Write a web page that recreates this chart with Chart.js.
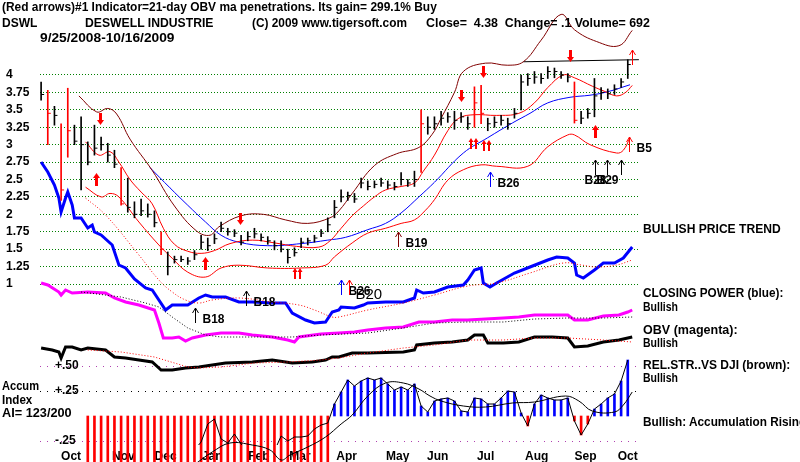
<!DOCTYPE html>
<html>
<head>
<meta charset="utf-8">
<script src="https://cdn.jsdelivr.net/npm/chart.js@4.4.1/dist/chart.umd.min.js"></script>
<style>
  body { margin: 0; background: #fff; }
  #wrap { position: relative; width: 800px; height: 462px; overflow: hidden;
          font-family: "Liberation Sans", Arial, sans-serif; font-weight: bold; font-size: 12px; color: #000; }
  #c { position: absolute; left: 0; top: 0; }
  .t { position: absolute; white-space: pre; line-height: 14px; transform-origin: 0 0; }
</style>
</head>
<body>
<div id="wrap">
  <canvas id="c" width="800" height="462"></canvas>
  <div class="t" data-w="435" style="left:2px;top:0px">(Red arrows)#1 Indicator=21-day OBV ma penetrations. Its gain= 299.1% Buy</div>
  <div class="t" data-w="35" style="left:2px;top:16px">DSWL</div>
  <div class="t" data-w="128" style="left:85px;top:16px">DESWELL INDUSTRIE</div>
  <div class="t" data-w="155" style="left:252px;top:16px">(C) 2009 www.tigersoft.com</div>
  <div class="t" data-w="224" style="left:426px;top:16px">Close=  4.38  Change= .1 Volume= 692</div>
  <div class="t" data-w="134" style="left:40px;top:31px">9/25/2008-10/16/2009</div>

  <div class="t" data-w="138" style="left:643px;top:222px">BULLISH PRICE TREND</div>
  <div class="t" data-w="140" style="left:643px;top:286px">CLOSING POWER (blue):</div>
  <div class="t" data-w="35" style="left:643px;top:300px">Bullish</div>
  <div class="t" data-w="95" style="left:643px;top:323px">OBV (magenta):</div>
  <div class="t" data-w="35" style="left:643px;top:336px">Bullish</div>
  <div class="t" data-w="147" style="left:643px;top:358px">REL.STR..VS DJI (brown):</div>
  <div class="t" data-w="35" style="left:643px;top:371px">Bullish</div>
  <div class="t" data-w="163" style="left:643px;top:415px">Bullish: Accumulation Rising</div>

  <div class="t" data-w="37" style="left:2px;top:379px">Accum</div>
  <div class="t" data-w="30" style="left:2px;top:393px">Index</div>
  <div class="t" data-w="70" style="left:2px;top:406px">AI= 123/200</div>
</div>
<script>
// trading-day index, 0 = 9/25/2008
const monthLabels = ['Oct', 'Nov', 'Dec', 'Jan', 'Feb', 'Mar', 'Apr', 'May', 'Jun', 'Jul', 'Aug', 'Sep', 'Oct'];
const monthDays = [13.5, 37, 56, 77, 98, 116.5, 137.5, 160.5, 178.5, 200, 223, 245, 264];
const priceTicks = [1, 1.25, 1.5, 1.75, 2, 2.25, 2.5, 2.75, 3, 3.25, 3.5, 3.75, 4];
const accumTicks = [-0.25, 0.25, 0.5];

// price bars
const priceDays = [0,3,6,9,12,15,18,21,24,27,30,33,36,39,42,45,48,51,54,57,60,63,66,69,72,75,78,81,84,87,
  90,93,96,99,102,105,108,111,114,117,120,123,126,129,132,135,138,141,144,147,150,153,156,159,162,165,168,171,174,177,
  180,183,186,189,192,195,198,201,204,207,210,213,216,219,222,225,228,231,234,237,240,243,246,249,252,255,258,261,264];
const priceHigh = [3.90,3.78,3.55,3.30,3.81,3.28,3.40,3.04,3.28,3.11, 3.02,2.92,2.67,2.52,2.18,2.22,2.15,2.05,1.75,1.46,
  1.40,1.40,1.38,1.48,1.70,1.66,1.72,1.89,1.80,1.78, 1.70,1.75,1.80,1.72,1.68,1.62,1.62,1.50,1.52,1.66,
  1.66,1.70,1.78,1.95,2.20,2.35,2.32,2.30,2.52,2.48, 2.48,2.52,2.48,2.46,2.60,2.50,2.62,3.50,3.40,3.40,
  3.48,3.46,3.48,3.46,3.40,3.83,3.85,3.38,3.40,3.42, 3.38,3.52,4.00,4.02,4.05,4.02,4.12,4.10,4.05,4.02,
  3.90,3.48,3.52,3.95,3.82,3.80,3.86,3.95,4.22];
const priceLow = [3.64,3.00,3.28,2.20,2.82,3.00,2.35,2.71,2.85,2.92, 2.75,2.67,2.13,2.03,1.95,1.98,1.96,1.82,1.42,1.13,
  1.30,1.32,1.28,1.35,1.50,1.48,1.58,1.75,1.70,1.68, 1.56,1.62,1.66,1.62,1.57,1.49,1.46,1.30,1.40,1.52,
  1.56,1.60,1.68,1.75,1.95,2.18,2.20,2.17,2.38,2.35, 2.38,2.40,2.37,2.35,2.42,2.40,2.40,2.60,3.15,3.22,
  3.28,3.32,3.22,3.32,3.22,3.25,3.30,3.20,3.25,3.28, 3.22,3.38,3.50,3.85,3.88,3.88,3.95,3.96,3.95,3.90,
  3.31,3.30,3.38,3.40,3.65,3.66,3.72,3.82,3.95];
const priceClose = [3.72,3.45,3.42,2.35,3.20,3.05,3.00,2.75,2.95,3.00, 2.85,2.72,2.15,2.10,2.00,2.05,2.00,1.88,1.50,1.25,
  1.35,1.35,1.33,1.42,1.60,1.55,1.65,1.80,1.75,1.73, 1.60,1.68,1.72,1.67,1.62,1.55,1.50,1.38,1.45,1.60,
  1.62,1.66,1.73,1.85,2.10,2.25,2.27,2.22,2.45,2.40, 2.43,2.45,2.42,2.40,2.50,2.45,2.50,3.30,3.25,3.30,
  3.38,3.40,3.35,3.40,3.30,3.60,3.45,3.30,3.32,3.35, 3.30,3.45,3.90,3.95,3.97,3.95,4.05,4.05,4.00,3.97,
  3.35,3.38,3.45,3.70,3.75,3.73,3.80,3.90,4.15];
const redBarDays = [3, 9, 12, 36, 54, 171, 195, 198, 240];

// price bands and averages
const upperBandDays = [17,25,30,34,40,50,60,70,76,80,90,100,110,120,130,134,140,150,160,170,176,180,186,190,200,210,217,225,234,240,250,260,266];
const upperBand = [3.70,3.47,3.52,3.44,3.08,2.63,2.12,1.76,1.70,1.82,1.98,2.00,1.92,1.87,1.95,2.05,2.30,2.70,2.87,2.96,3.15,3.38,3.75,4.05,4.17,4.14,4.19,4.50,4.87,4.65,4.48,4.42,4.64];
const midBandDays = [20,26,31,35,40,45,50,55,60,66,72,78,85,95,105,115,125,130,135,140,145,150,155,162,168,172,177,183,188,195,205,215,222,228,235,240,248,254,259,263,266];
const midBand = [3.04,2.85,2.90,2.75,2.50,2.32,2.15,1.80,1.57,1.47,1.44,1.48,1.58,1.63,1.59,1.54,1.53,1.62,1.80,1.98,2.12,2.25,2.35,2.40,2.45,2.62,2.85,3.20,3.38,3.43,3.42,3.45,3.60,3.82,4.00,3.96,3.84,3.76,3.70,3.75,3.85];
const lowerBandDays = [20,27,31,35,44,53,59,66,74,81,89,102,117,128,132,140,147,155,162,168,173,177,183,190,198,205,219,228,237,240,247,259,262,265];
const lowerBand = [2.39,2.25,2.30,2.25,1.89,1.56,1.37,1.17,1.10,1.23,1.27,1.23,1.23,1.27,1.39,1.59,1.73,1.80,1.87,1.92,2.06,2.21,2.49,2.64,2.71,2.69,2.69,2.97,3.14,3.14,3.00,2.88,2.92,3.10];
const longMaDays = [49,58,66,74,81,89,102,117,129,137,147,155,162,170,177,190,201,212,220,228,238,247,255,265];
const longMa = [2.67,2.38,2.13,1.89,1.70,1.60,1.55,1.58,1.63,1.67,1.78,1.87,2.02,2.25,2.46,2.88,3.10,3.31,3.45,3.60,3.68,3.71,3.76,3.86];
const resistDays = [217, 269];
const resist = [4.19, 4.22];

// closing power (blue) and its average
const cpDays = [0,3,6,8,9,11,12,14,15,18,21,23,24,27,32,35,38,42,47,50,56,59,66,71,74,77,83,89,95,104,110,113,119,123,128,131,134,135,
  141,145,147,155,163,168,169,172,177,183,190,192,195,198,199,202,205,213,220,228,232,237,240,241,244,249,253,258,262,266];
const cp = [69,64,57.5,51,44,51,54,47.5,41,41,36,37.5,34,32.5,27.5,17.5,16,10.5,6,5,-5,-2.5,-2.5,1,2.5,1.5,1.5,-1,-1,-1.5,-1.5,-6.5,-10,-11.5,-11,-6,-5,-3.5,
  -4,-2.5,-1.5,-1,-1,1,5,3.5,4,6.5,7.5,10,15,16,8.5,6.5,8.5,13.5,16.5,20,21.5,21,18.5,12.5,11,15,18.5,18.5,21,26.5];
const cpMaDays = [20,29,44,53,59,65,71,77,89,104,116,123,131,134,147,163,177,192,205,220,235,243,250,259,266];
const cpMa = [51,42.5,22.5,10,4,0,-1.5,0,1,-1,-2.5,-5,-8.5,-8.5,-5,-1.5,2.5,7,8.5,13.5,18.5,17.5,16.5,17.5,20];

// OBV (magenta) and its average
const obvDays = [0,3,8,9,11,14,21,29,33,38,44,51,53,55,59,62,65,68,74,81,89,95,104,111,114,116,126,134,141,147,155,163,170,177,185,192,200,208,215,222,230,237,240,246,253,260,264,266];
const obv = [620,600,530,500,550,520,530,520,470,430,400,350,220,70,70,80,40,70,100,120,120,100,80,50,30,80,110,120,130,150,170,180,230,230,250,250,260,270,280,300,300,300,250,250,290,300,330,350];
const obvMaDays = [18,36,47,53,59,66,74,81,96,113,126,147,163,177,192,208,222,237,253,266];
const obvMa = [530,480,420,380,280,170,100,80,80,80,100,120,170,220,230,230,260,270,270,280];

// relative strength vs DJI and its average
const rsDays = [0,5,8,9,11,14,18,21,29,33,38,44,50,54,59,65,71,74,83,95,104,113,122,128,131,134,140,147,163,168,169,177,185,192,195,199,201,208,215,222,230,237,240,246,253,260,266];
const rs = [1.12,1.10,1.08,1.02,1.13,1.13,1.10,1.12,1.10,1.03,1.02,1.00,0.98,0.90,0.90,0.92,0.93,0.94,0.97,0.98,1.00,0.97,0.98,1.00,1.03,1.03,1.07,1.07,1.08,1.10,1.15,1.17,1.18,1.20,1.25,1.25,1.17,1.17,1.18,1.23,1.23,1.22,1.13,1.14,1.18,1.20,1.23];
const rsMaDays = [21,36,51,66,71,81,96,111,126,134,147,163,177,192,208,222,237,253,266];
const rsMa = [1.10,1.08,1.03,0.93,0.92,0.93,0.97,0.98,1.00,1.02,1.07,1.12,1.15,1.20,1.20,1.22,1.22,1.20,1.18];

// accumulation index
const accumDays = [21,24,27,30,33,36,39,42,45,48,51,54,57,60,63,66,69,72,75,78,81,84,87,90,93,96,99,102,105,108,
  111,114,117,120,123,126,129,132,135,138,141,144,147,150,153,156,159,162,165,168,171,174,177,180,183,186,189,192,195,198,
  201,204,207,210,213,216,219,222,225,228,231,234,237,240,243,246,249,252,255,258,261,264];
const accumBars = [-0.47,-0.47,-0.47,-0.47,-0.47,-0.47,-0.47,-0.47,-0.47,-0.47,-0.47,-0.47,-0.47,-0.47,-0.47,-0.47,-0.47,-0.47,-0.47,-0.47,
  -0.47,-0.47,-0.47,-0.47,-0.47,-0.47,-0.47,-0.47,-0.47,-0.47,-0.47,-0.47,-0.47,-0.47,-0.47,-0.47,-0.47,
  0.12,0.24,0.36,0.30,0.35,0.38,0.36,0.38,0.32,0.26,0.29,0.26,0.32,0.10,0.04,0.15,0.17,0.18,0.15,0.05,0.04,0.18,0.17,
  0.12,0.12,0.18,0.25,0.24,0.03,-0.10,0.12,0.21,0.18,0.16,0.16,0.18,-0.05,-0.19,-0.08,0.07,0.12,0.18,0.22,0.35,0.56];
const accumLine = [-0.34,-0.33,-0.33,-0.30,-0.37,-0.39,-0.41,-0.41,-0.40,-0.40,-0.39,-0.39,-0.39,-0.39,-0.39,-0.36,-0.34,-0.26,-0.08,-0.03,
  -0.23,-0.27,-0.18,-0.28,-0.38,-0.43,-0.46,-0.46,-0.35,-0.20,-0.25,-0.21,-0.21,-0.20,-0.13,-0.09,-0.07,
  0.12,0.24,0.36,0.30,0.35,0.38,0.36,0.38,0.32,0.26,0.29,0.26,0.32,0.10,0.04,0.15,0.17,0.18,0.15,0.05,0.04,0.18,0.17,
  0.12,0.12,0.18,0.25,0.24,0.03,-0.10,0.12,0.21,0.18,0.16,0.16,0.18,-0.05,-0.19,-0.08,0.07,0.12,0.18,0.22,0.35,0.56];
const accumMaDays = [70,77,85,95,103,108,112,120,128,135,140,147,155,163,170,175,180,190,200,212,222,236,242,248,258,262,266];
const accumMa = [-0.47,-0.36,-0.27,-0.29,-0.34,-0.44,-0.39,-0.31,-0.21,-0.08,0.01,0.20,0.33,0.33,0.27,0.20,0.15,0.10,0.09,0.13,0.14,0.20,0.15,0.05,0.04,0.11,0.24];

// red signal arrows on the price bars
const fatArrowDays = [26.6, 89.6, 189, 198.9, 238, 24.8, 73.8, 249.3, 115.2, 194.4, 200.3];
const fatArrowPrices = [3.28, 1.85, 3.61, 3.96, 4.19, 2.59, 1.39, 3.28, 1.23, 3.10, 3.07];
const fatArrowKinds = ['down', 'down', 'down', 'down', 'down', 'up', 'up', 'up', 'double', 'double', 'double'];

// buy signals
const signalNames = ['B18', 'B18', 'B26', 'B20', 'B19', 'B26', 'B28', 'B29', '', 'B5', ''];
const signalDays = [69.2, 92.1, 134.8, 138.4, 160.4, 202, 249.3, 254.7, 261, 264.6, 266];
const signalLevels = [-4, 4.5, 10, 10, 1.75, 2.61, 2.78, 2.78, 2.78, 3.11, 4.36];
const signalAxes = ['yCP', 'yCP', 'yCP', 'yCP', 'y', 'y', 'y', 'y', 'y', 'y', 'y'];
const signalColors = ['#000', '#000', '#0000ff', '#ff0000', '#800000', '#0000ff', '#000', '#000', '#000', '#ff0000', '#ff0000'];

const pts = (days, vals) => days.map((d, i) => ({ x: d, y: vals[i] }));
const line = (days, vals, axis, color, width, extra) => Object.assign({
  type: 'line', data: pts(days, vals), yAxisID: axis, borderColor: color,
  borderWidth: width, pointRadius: 0, pointHoverRadius: 0, tension: 0, order: 5
}, extra || {});
const dotted = { borderDash: [1, 2] };
const smooth = { tension: 0.4 };
const barColor = priceDays.map(d => redBarDays.includes(d) ? '#ff0000' : '#000000');

const signalPlugin = {
  id: 'signals',
  afterDatasetsDraw(chart) {
    const { ctx, scales } = chart;
    ctx.save();
    ctx.fillStyle = '#ff0000';
    const tri = (x, tip, base, half) => {
      ctx.beginPath(); ctx.moveTo(x - half, base); ctx.lineTo(x + half, base); ctx.lineTo(x, tip); ctx.closePath(); ctx.fill();
    };
    fatArrowDays.forEach((d, i) => {
      const cx = Math.round(scales.x.getPixelForValue(d)) + 0.5;
      const y = Math.round(scales.y.getPixelForValue(fatArrowPrices[i]));
      const kind = fatArrowKinds[i];
      if (kind === 'down') {
        ctx.fillRect(cx - 1.5, y - 12, 3, 7);
        tri(cx, y, y - 5, 3.5);
      } else if (kind === 'up') {
        ctx.fillRect(cx - 1.5, y + 5, 3, 8);
        tri(cx, y, y + 5, 3.5);
      } else {
        [-2.5, 2.5].forEach(o => {
          ctx.fillRect(cx + o - 1, y + 4, 2, 7);
          tri(cx + o, y, y + 4, 2.5);
        });
      }
    });
    ctx.lineWidth = 1;
    ctx.textBaseline = 'middle';
    signalDays.forEach((d, i) => {
      const cx = Math.round(scales.x.getPixelForValue(d)) + 0.5;
      const y = Math.round(scales[signalAxes[i]].getPixelForValue(signalLevels[i]));
      ctx.strokeStyle = signalColors[i];
      ctx.beginPath();
      ctx.moveTo(cx, y); ctx.lineTo(cx, y + 15);
      ctx.moveTo(cx - 3, y + 5); ctx.lineTo(cx, y); ctx.lineTo(cx + 3, y + 5);
      ctx.stroke();
      const name = signalNames[i];
      if (!name) return;
      ctx.fillStyle = '#000';
      if (name === 'B28' || name === 'B29') {
        ctx.font = 'bold 12px "Liberation Sans"';
        ctx.textAlign = 'center';
        ctx.fillText(name, cx, y + 21);
      } else if (name === 'B20') {
        ctx.font = '15px "Liberation Sans"';
        ctx.textAlign = 'left';
        ctx.fillText(name, cx + 6, y + 15);
      } else {
        ctx.font = 'bold 12px "Liberation Sans"';
        ctx.textAlign = 'left';
        ctx.fillText(name, cx + 7, y + 12);
      }
    });
    ctx.restore();
  }
};

Chart.defaults.font.family = '"Liberation Sans", Arial, sans-serif';
Chart.defaults.font.size = 12;
Chart.defaults.font.weight = 'bold';
Chart.defaults.color = '#000';

const hidden = (min, max) => ({ type: 'linear', display: false, min, max });
// keep the plot area fixed: no label padding added by the axes
const noPad = s => { s.paddingTop = 0; s.paddingBottom = 0; s.paddingLeft = 0; s.paddingRight = 0; };

new Chart(document.getElementById('c'), {
  type: 'bar',
  data: {
    datasets: [
      { type: 'bar', data: pts(accumDays, accumBars), yAxisID: 'yAI', grouped: false, barThickness: 2, clip: false,
        backgroundColor: accumBars.map(v => v >= 0 ? '#0000ff' : '#ff0000'), order: 10 },
      line(accumDays, accumLine, 'yAI', '#000', 1),
      line(accumMaDays, accumMa, 'yAI', '#000', 1, Object.assign({ clip: false }, smooth)),
      line(rsMaDays, rsMa, 'yRS', '#ff0000', 1, dotted),
      line(rsDays, rs, 'yRS', '#000', 3),
      line(obvMaDays, obvMa, 'yOBV', '#000', 1, dotted),
      line(obvDays, obv, 'yOBV', '#ff00ff', 3),
      line(cpMaDays, cpMa, 'yCP', '#ff0000', 1, Object.assign({}, dotted, smooth)),
      line(cpDays, cp, 'yCP', '#0000ff', 3),
      line(upperBandDays, upperBand, 'y', '#800000', 1, smooth),
      line(midBandDays, midBand, 'y', '#ff0000', 1, smooth),
      line(lowerBandDays, lowerBand, 'y', '#ff0000', 1, smooth),
      line(longMaDays, longMa, 'y', '#0000ff', 1, smooth),
      line(resistDays, resist, 'y', '#000', 1),
      { type: 'bar', data: priceDays.map((d, i) => ({ x: d, y: [priceLow[i], priceHigh[i]] })), yAxisID: 'y',
        grouped: false, barThickness: 1, backgroundColor: barColor, order: 1 },
      { type: 'line', data: pts(priceDays, priceClose), yAxisID: 'y', showLine: false, pointStyle: 'dash',
        pointRadius: 3, pointHoverRadius: 3, pointBorderWidth: 1, pointBorderColor: barColor, order: 0 }
    ]
  },
  options: {
    responsive: false,
    animation: false,
    events: [],
    layout: { autoPadding: false, padding: { left: 6, right: 160, top: 0, bottom: 0 } },
    plugins: { legend: { display: false }, tooltip: { enabled: false } },
    scales: {
      x: {
        type: 'linear', min: -0.5, max: 269.5, offset: false,
        grid: { display: false, drawTicks: false }, border: { display: false },
        afterBuildTicks: s => { s.ticks = monthDays.map(v => ({ value: v })); },
        afterFit: s => { s.height = 17; noPad(s); },
        ticks: { autoSkip: false, maxRotation: 0, padding: 4, callback: (v, i) => monthLabels[i] }
      },
      y: {
        type: 'linear', position: 'left', weight: 10, min: -1.3108, max: 5.0765,
        afterBuildTicks: s => { s.ticks = priceTicks.map(v => ({ value: v })); },
        afterFit: s => { s.width = 34; noPad(s); },
        grid: { color: '#008000', drawTicks: false },
        border: { display: false, dash: [1, 2] },
        ticks: { autoSkip: false, crossAlign: 'far', callback: v => String(v) }
      },
      yAI: {
        type: 'linear', position: 'left', weight: 0, min: -0.29, max: 4.16,
        afterBuildTicks: s => { s.ticks = accumTicks.map(v => ({ value: v })); },
        afterFit: s => { s.width = 0; noPad(s); },
        grid: { drawTicks: false, color: c => c.tick && c.tick.value === 0.25 ? '#000000' : '#b040b0' },
        border: { display: false, dash: [1, 6] },
        ticks: { autoSkip: false, mirror: true, padding: 15,
                 callback: v => (v > 0 ? '+' : '-') + Math.abs(v).toFixed(2).replace(/^0/, '') }
      },
      yCP: hidden(-72.5, 150),
      yOBV: hidden(-1000, 3450),
      yRS: hidden(0.15, 4.6)
    }
  },
  plugins: [signalPlugin]
});

document.querySelectorAll('.t').forEach(el => {
  el.style.transform = 'scaleX(' + (+el.dataset.w / el.offsetWidth) + ')';
});
</script>
</body>
</html>
